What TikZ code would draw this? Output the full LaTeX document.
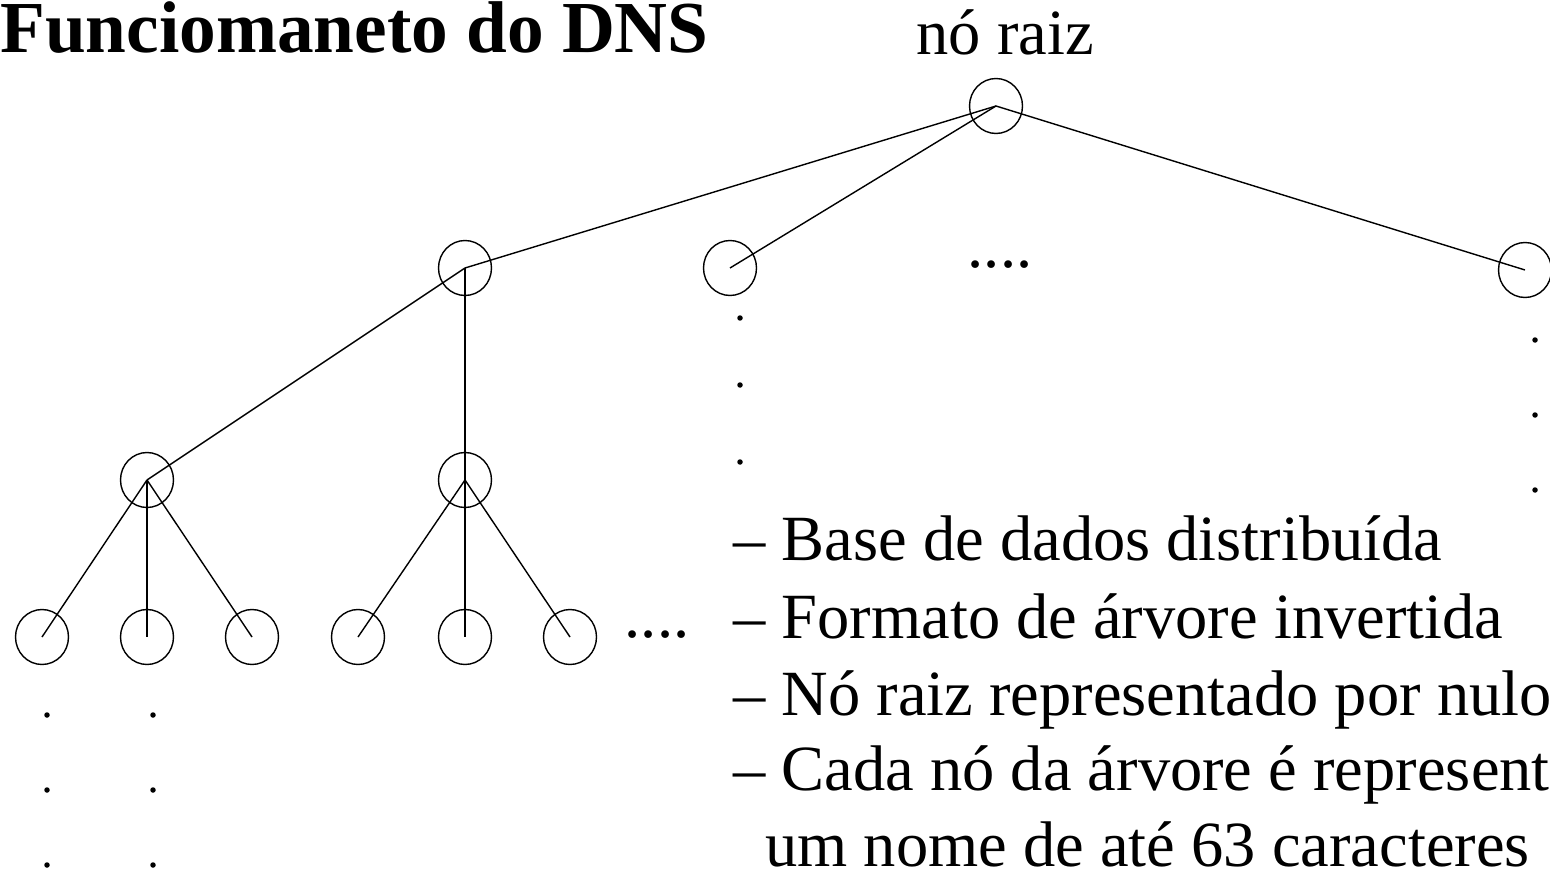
\documentclass[tikz,border=0pt]{standalone}
\usepackage{fontspec}
\setmainfont{Liberation Serif}
\usetikzlibrary{shapes.geometric}
\tikzset{
  nd/.style={ellipse, draw, line width=0.8pt, minimum width=1.06cm,
             minimum height=1.1cm, inner sep=0pt},
  ed/.style={draw, line width=0.8pt},
  pt/.style={circle, fill, inner sep=0pt, minimum size=0.11cm},
  txt/.style={font=\fontsize{36.7}{40}\selectfont, inner sep=0pt, anchor=base west},
  ttl/.style={font=\fontsize{41.7}{44}\selectfont\bfseries, inner sep=0pt, anchor=base west}
}

\begin{document}
\begin{tikzpicture}[x=0.02cm, y=-0.02cm]
  \clip (0,0) rectangle (1550,871);
  \node[ttl] (title) at (0,53) {Funciomaneto do DNS};
  \node[txt, anchor=base] (rootlbl) at (1005,55) {nó raiz};
  % tree
  \node[nd] (root) at (996,106) {};
  \node[nd] (a) at (465,268) {};
  \node[nd] (b) at (730,268) {};
  \node[nd] (c) at (1525,270) {};
  \node[nd] (a1) at (147,480) {};
  \node[nd] (a2) at (465,480) {};
  \foreach \n/\x in {a11/42,a12/147,a13/252,a21/358,a22/465,a23/570}
    \node[nd] (\n) at (\x,637) {};
  \foreach \a/\b in {root/a,root/b,root/c,a/a1,a/a2,a1/a11,a1/a12,a1/a13,a2/a21,a2/a22,a2/a23}
    \draw[ed] (\a.center)--(\b.center);
  % ellipses
  \node[txt, anchor=base] (more1) at (1000,268) {....};
  \node[txt, anchor=base] (more2) at (657,637) {....};
  \foreach \y [count=\i] in {318,385,462} \node[pt] (bd\i) at (740,\y) {};
  \foreach \y [count=\i] in {340,415,490} \node[pt] (cd\i) at (1535,\y) {};
  \foreach \y [count=\i] in {715,790,865} {
    \node[pt] (ld\i) at (47,\y) {};
    \node[pt] (md\i) at (153,\y) {};
  }
  % notes
  \node[txt] (n1) at (733,560) {– Base de dados distribuída};
  \node[txt] (n2) at (733,638) {– Formato de árvore invertida};
  \node[txt] (n3) at (733,715) {– Nó raiz representado por nulo};
  \node[txt] (n4) at (733,790) {– Cada nó da árvore é represent};
  \node[txt] (n5) at (765,866) {um nome de até 63 caracteres};
\end{tikzpicture}
\end{document}
